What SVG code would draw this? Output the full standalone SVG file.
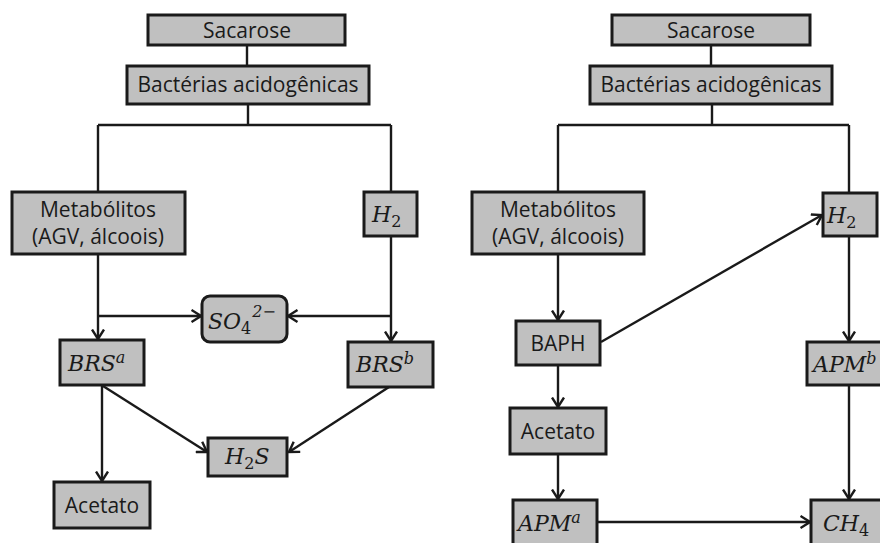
<svg xmlns="http://www.w3.org/2000/svg" width="880" height="543" viewBox="0 0 880 543">
<defs>
<style>
.box{fill:#c0c0c0;stroke:#1a1a1a;stroke-width:3}
.t{font-family:"Open Sans","Noto Sans",sans-serif;font-size:21px;fill:#1a1a1a;text-anchor:middle}
.m{font-family:"DejaVu Serif","Liberation Serif",serif;font-style:italic;font-size:22px;fill:#1a1a1a}
.sub{font-style:normal;font-size:16px}
.sup{font-size:16px}
.c{fill:none;stroke:#1a1a1a;stroke-width:2.4}
.a{marker-end:url(#arr)}
</style>
<marker id="arr" viewBox="0 0 12 14" refX="10.5" refY="7" markerWidth="12" markerHeight="14" markerUnits="userSpaceOnUse" orient="auto">
<path d="M1,1 L10.5,7 L1,13" fill="none" stroke="#1a1a1a" stroke-width="2.4"/>
</marker>
</defs>
<rect width="880" height="543" fill="#fff"/>
<g id="connectors">
<path class="c" d="M247,45 V66 M248,104 V125 M98,125 H391 M98,125 V192 M391,125 V192"/>
<path class="c a" d="M98,254 V339"/>
<path class="c a" d="M98,316 H201"/>
<path class="c a" d="M391,236 V341"/>
<path class="c a" d="M391,316 H288"/>
<path class="c a" d="M103,386 L207,452"/>
<path class="c a" d="M389,387 L289,452"/>
<path class="c a" d="M102,386 V481"/>
<path class="c" d="M711,45 V66 M712,104 V125 M558,125 H849 M558,125 V192 M849,125 V193"/>
<path class="c a" d="M558,254 V320"/>
<path class="c a" d="M601,342 L822,215"/>
<path class="c a" d="M558,365 V407"/>
<path class="c a" d="M558,454 V499"/>
<path class="c a" d="M597,522 H810"/>
<path class="c a" d="M849,236 V341"/>
<path class="c a" d="M849,385 V499"/>
</g>
<g id="l-sacarose"><rect class="box" x="148" y="15" width="197" height="30"/><text class="t" x="247" y="38">Sacarose</text></g>
<g id="l-bacterias"><rect class="box" x="127" y="66" width="242" height="38"/><text class="t" x="248" y="92">Bactérias acidogênicas</text></g>
<g id="l-metabolitos"><rect class="box" x="12" y="192" width="173" height="62"/><text class="t" x="98" y="217">Metabólitos</text><text class="t" x="98" y="244">(AGV, álcoois)</text></g>
<g id="l-h2"><rect class="box" x="364" y="192" width="53" height="44"/><text class="m" x="372" y="222">H<tspan class="sub" dy="5">2</tspan></text></g>
<g id="l-so4"><rect class="box" x="202" y="296" width="85" height="46" rx="8"/><text class="m" x="208" y="329">SO<tspan class="sub" dy="5">4</tspan><tspan class="sup" dx="1" dy="-17">2−</tspan></text></g>
<g id="l-brsa"><rect class="box" x="60" y="340" width="84" height="45"/><text class="m" x="68" y="371">BRS<tspan class="sup" dy="-8">a</tspan></text></g>
<g id="l-brsb"><rect class="box" x="348" y="342" width="85" height="45"/><text class="m" x="356" y="372">BRS<tspan class="sup" dy="-8">b</tspan></text></g>
<g id="l-h2s"><rect class="box" x="208" y="438" width="79" height="38"/><text class="m" x="225" y="464">H<tspan class="sub" dy="5">2</tspan><tspan dy="-5">S</tspan></text></g>
<g id="l-acetato"><rect class="box" x="54" y="482" width="96" height="46"/><text class="t" x="102" y="513">Acetato</text></g>
<g id="r-sacarose"><rect class="box" x="612" y="15" width="198" height="30"/><text class="t" x="711" y="38">Sacarose</text></g>
<g id="r-bacterias"><rect class="box" x="590" y="66" width="242" height="38"/><text class="t" x="711" y="92">Bactérias acidogênicas</text></g>
<g id="r-metabolitos"><rect class="box" x="472" y="192" width="172" height="62"/><text class="t" x="558" y="217">Metabólitos</text><text class="t" x="558" y="244">(AGV, álcoois)</text></g>
<g id="r-h2"><rect class="box" x="823" y="193" width="54" height="43"/><text class="m" x="827" y="223">H<tspan class="sub" dy="5">2</tspan></text></g>
<g id="r-baph"><rect class="box" x="516" y="321" width="84" height="44"/><text class="t" x="558" y="351">BAPH</text></g>
<g id="r-acetato"><rect class="box" x="510" y="408" width="96" height="46"/><text class="t" x="558" y="439">Acetato</text></g>
<g id="r-apma"><rect class="box" x="513" y="500" width="84" height="50"/><text class="m" x="518" y="531">APM<tspan class="sup" dy="-8">a</tspan></text></g>
<g id="r-apmb"><rect class="box" x="807" y="342" width="80" height="43"/><text class="m" x="813" y="372">APM<tspan class="sup" dy="-8">b</tspan></text></g>
<g id="r-ch4"><rect class="box" x="811" y="500" width="80" height="50"/><text class="m" x="823" y="531">CH<tspan class="sub" dy="5">4</tspan></text></g>
</svg>
